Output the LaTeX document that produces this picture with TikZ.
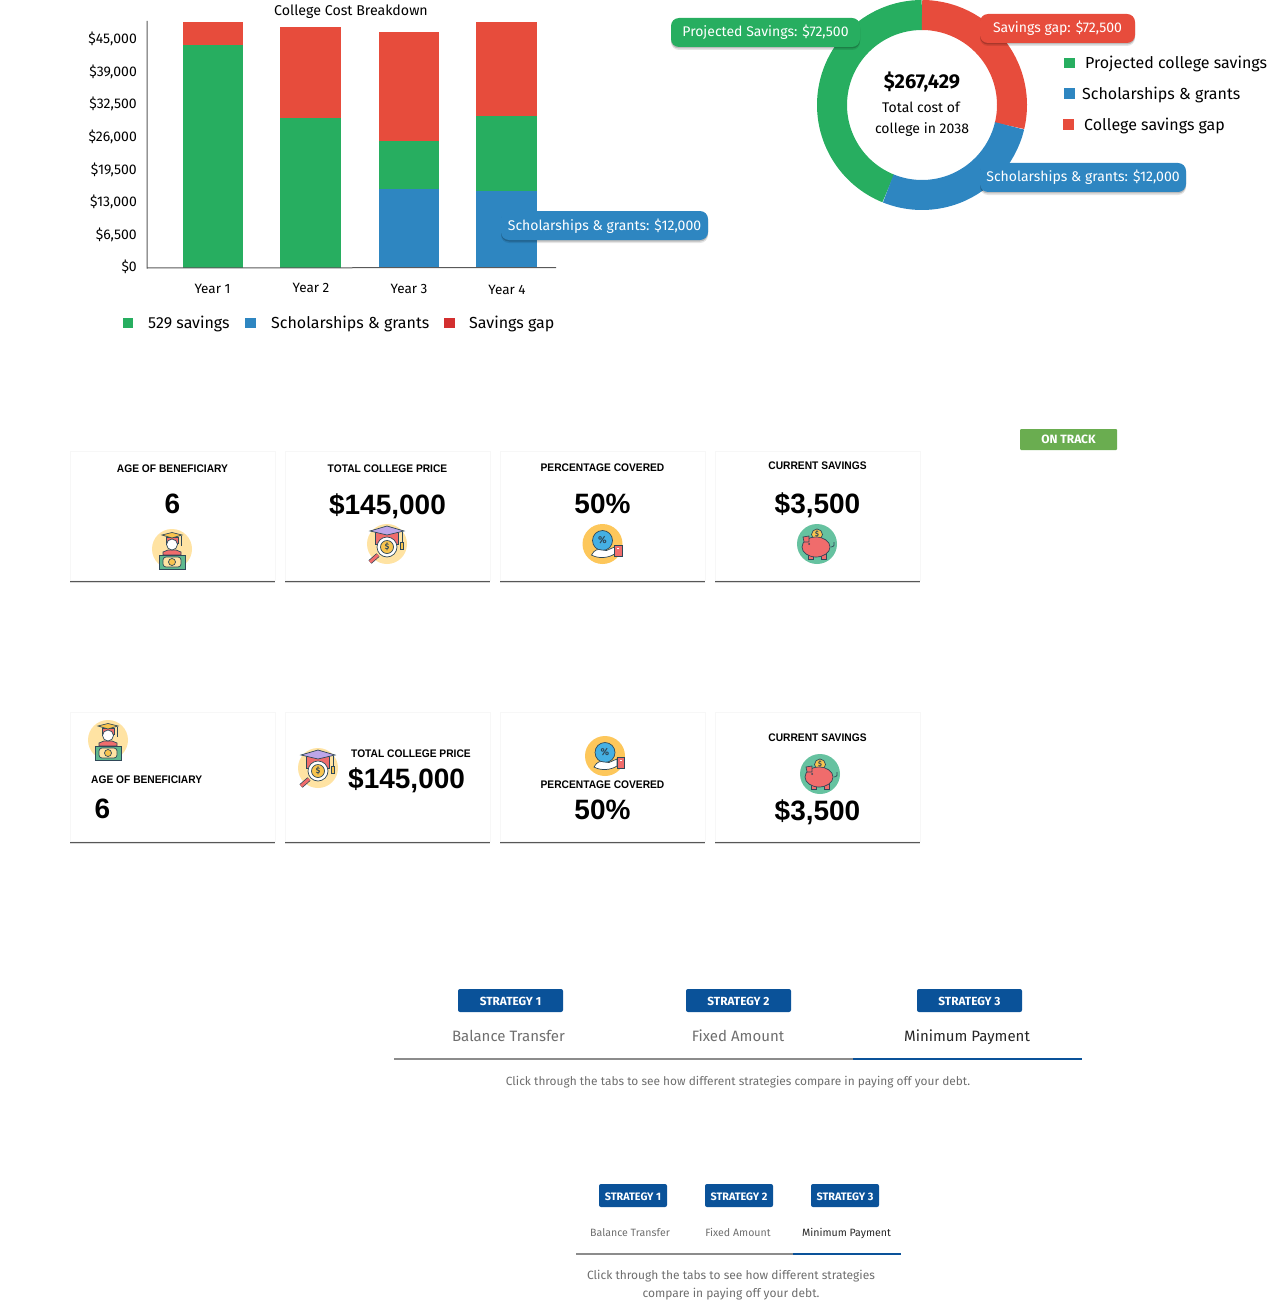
\documentclass[tikz,border=0pt]{standalone}
\usepackage{fontspec}
\setmainfont{Fira Sans}
\newfontfamily\headfont{Liberation Sans}
\newfontfamily\titlefont[FakeStretch=0.93]{Liberation Sans}
\usetikzlibrary{shadows}
\definecolor{savegreen}{HTML}{27AE60}
\definecolor{gapred}{HTML}{E74C3C}
\definecolor{legendred}{HTML}{D32F2F}
\definecolor{grantblue}{HTML}{2E86C1}
\definecolor{trackgreen}{HTML}{6AAD50}
\definecolor{tabblue}{HTML}{0A5299}
\definecolor{tabgrey}{HTML}{6E6E6E}
\definecolor{lineink}{HTML}{2F4858}
\definecolor{paleyellow}{HTML}{FFE3A3}
\definecolor{coinyellow}{HTML}{F8C44F}
\definecolor{iconred}{HTML}{F06C6C}
\definecolor{billgreen}{HTML}{5FB98F}
\definecolor{pigback}{HTML}{66C2A0}
\definecolor{lensblue}{HTML}{45B0E3}
\definecolor{handback}{HTML}{FDC75B}
\newcommand{\fs}[1]{\fontsize{#1}{#1}\selectfont}
\tikzset{
  plain/.style={inner sep=0pt,text=black},
  tick/.style={plain,anchor=east,yshift=-.5pt,font=\fs{14}},
  yearlabel/.style={plain,yshift=-1pt,font=\fs{13.5}},
  legendtext/.style={plain,anchor=west,yshift=-1pt,font=\fs{16}},
  pill/.style={rounded corners=8pt,text=white,inner sep=0pt,minimum height=29pt,font=\fs{14},
    text height=12pt,text depth=3pt,
    general shadow={shadow xshift=0pt,shadow yshift=-3pt,fill=black,opacity=.1},
    general shadow={shadow xshift=0pt,shadow yshift=-1.5pt,fill=black,opacity=.18}},
  card/.style={fill=white,draw=black!3,line width=.4pt,inner sep=0pt,minimum width=205pt,minimum height=129pt,
    general shadow={shadow xshift=0pt,shadow yshift=-3pt,shadow scale=1.004,fill=black,opacity=.15},
    general shadow={shadow xshift=0pt,shadow yshift=-1.6pt,shadow scale=1.002,fill=black,opacity=.6}},
  cardtitle/.style={plain,font=\titlefont\bfseries\fs{11}},
  cardvalue/.style={plain,font=\headfont\bfseries\fs{28}},
  badge/.style={fill=tabblue,rounded corners=2pt,text=white,inner sep=0pt,minimum height=23pt,
    text height=10pt,text depth=0pt,font=\bfseries\fs{11.8}},
  tablabel/.style={plain,text=tabgrey,font=\fs{15}},
  caption/.style={plain,text=tabgrey,yshift=-1pt,font=\fs{11.9}},
  ink/.style={draw=lineink,line width=.7pt},
  gradicon/.pic={
    \fill[paleyellow] (0,0) circle (20);
    \fill[ink,fill=iconred] (-9,6) -- (-9,3) -- (-4,1) -- (4,1) -- (9,3) -- (9,6) -- cycle;
    \fill[ink,fill=iconred] (-6,-12) rectangle (6,-6);
    \fill[ink,fill=white] (0,-4.5) circle (5.5);
    \fill[ink,fill=coinyellow] (-10,-14) -- (0,-16.5) -- (10,-14) -- (0,-11) -- cycle;
    \draw[ink] (9,-13) -- (9,-3);
    \fill[ink,fill=billgreen] (-13,6) rectangle (13,20);
    \fill[ink,fill=paleyellow,rounded corners=3pt] (-9,8) rectangle (9,18);
    \fill[ink,fill=coinyellow] (0,13) circle (3.5);
  },
  lensicon/.pic={
    \fill[paleyellow] (0,0) circle (20);
    \fill[ink,fill=iconred] (-12,-12) rectangle (11,0);
    \fill[ink,fill=purple!35!blue!35!white] (-17,-13) -- (0,-18) -- (17,-13) -- (0,-9) -- cycle;
    \draw[ink,line width=1pt] (15,-12) -- (15,-2);
    \fill[ink,fill=coinyellow] (13.5,-2) rectangle (16.5,5);
    \draw[lineink,line width=4.5pt] (-9,11) -- (-17,18);
    \draw[iconred,line width=3pt] (-9,11) -- (-17,18);
    \fill[ink,fill=white] (0,3) circle (10);
    \fill[ink,fill=coinyellow] (0,3) circle (6.5);
    \node[plain,text=lineink,font=\bfseries\fs{8}] at (0,3) {\$};
  },
  handicon/.pic={
    \fill[handback] (0,0) circle (20);
    \fill[ink,fill=lensblue] (0,-3.5) circle (10);
    \node[plain,text=lineink,font=\bfseries\fs{10}] at (0,-3.5) {\%};
    \fill[ink,fill=white] (-11,11) .. controls (-8,5) and (-4,5) .. (-1,6) -- (4,6.5)
      -- (12,3) -- (12,10) .. controls (6,14) and (-4,15) .. (-11,11) -- cycle;
    \fill[ink,fill=iconred] (12,1) rectangle (19.5,12);
    \fill[white] (14.8,3.5) rectangle (16.6,5);
  },
  pigicon/.pic={
    \fill[pigback] (0,0) circle (20);
    \fill[ink,fill=coinyellow] (0,-9.5) circle (5.5);
    \node[plain,text=lineink,font=\bfseries\fs{7}] at (0,-9.5) {\$};
    \draw[ink] (14,3) .. controls (17,3) and (18,0) .. (17,-2);
    \fill[ink,fill=iconred] (-9,9) rectangle (-4,15);
    \fill[ink,fill=iconred] (4,9) rectangle (9,15);
    \fill[ink,fill=iconred] (-1,3) ellipse (14 and 10);
    \fill[ink,fill=iconred] (-14,-7) -- (-8,-8) -- (-8,-2) -- (-13,-2) -- cycle;
    \fill[lineink] (-8,0) circle (1);
  },
}
\begin{document}
\begin{tikzpicture}[x=1pt,y=-1pt]
  \useasboundingbox (0,0) rectangle (1272,1308);
  \fill[savegreen] (183,45) rectangle (243,268);
  \fill[gapred] (183,22) rectangle (243,45);
  \fill[savegreen] (280,118) rectangle (341,268);
  \fill[gapred] (280,27) rectangle (341,118);
  \fill[grantblue] (379,189) rectangle (439,267);
  \fill[savegreen] (379,141) rectangle (439,189);
  \fill[gapred] (379,32) rectangle (439,141);
  \fill[grantblue] (476,191) rectangle (537,267);
  \fill[savegreen] (476,116) rectangle (537,191);
  \fill[gapred] (476,22) rectangle (537,116);
  \draw[black!65,line width=1pt] (147,21) -- (147,268) -- (556,267.5);
  \node[plain,font=\fs{14.2}] (charttitle) at (351,12) {College Cost Breakdown};
  \node[tick] (t45) at (137,38.5) {\$45,000};
  \node[tick] (t39) at (137,71) {\$39,000};
  \node[tick] (t32) at (137,103.5) {\$32,500};
  \node[tick] (t26) at (137,136.5) {\$26,000};
  \node[tick] (t19) at (137,169) {\$19,500};
  \node[tick] (t13) at (137,201.5) {\$13,000};
  \node[tick] (t6) at (137,234.5) {\$6,500};
  \node[tick] (t0) at (137,266.5) {\$0};
  \node[yearlabel] (year1) at (212.5,288) {Year 1};
  \node[yearlabel] (year2) at (311,287) {Year 2};
  \node[yearlabel] (year3) at (409,288) {Year 3};
  \node[yearlabel] (year4) at (507,289) {Year 4};
  \fill[savegreen] (123,318) rectangle (133,328);
  \node[legendtext] (leg529) at (148,323) {529 savings};
  \fill[grantblue] (245,318) rectangle (256,328);
  \node[legendtext] (leggrant) at (271,323) {Scholarships \& grants};
  \fill[legendred] (444,318) rectangle (455,328);
  \node[legendtext] (leggap) at (469,323) {Savings gap};
  \node[pill,fill=grantblue,minimum width=207pt] (chartpill) at (604.5,225.5) {Scholarships \& grants: \$12,000};
  \begin{scope}[shift={(922,105)},y=1pt]
    \draw[savegreen,line width=30pt] (90:90) arc[start angle=90,end angle=248,radius=90];
    \draw[gapred,line width=30pt] (90:90) arc[start angle=90,end angle=-13.4,radius=90];
    \draw[grantblue,line width=30pt] (-13.4:90) arc[start angle=-13.4,end angle=-112,radius=90];
  \end{scope}
  \node[plain,font=\bfseries\fs{20}] (total) at (922,82) {\$267,429};
  \node[plain,font=\fs{14}] (totala) at (921,107) {Total cost of};
  \node[plain,font=\fs{14}] (totalb) at (922,130) {college in 2038};
  \node[pill,fill=savegreen,minimum width=189pt] (savepill) at (765.5,32.5) {Projected Savings: \$72,500};
  \node[pill,fill=gapred,minimum width=155pt] (gappill) at (1057.5,28.5) {Savings gap: \$72,500};
  \node[pill,fill=grantblue,minimum width=206pt] (grantpill) at (1083,177.5) {Scholarships \& grants: \$12,000};
  \fill[savegreen] (1064,58) rectangle (1075,68);
  \node[legendtext] (legsave) at (1085,62.5) {Projected college savings};
  \fill[grantblue] (1064,88) rectangle (1075,99);
  \node[legendtext] (leggrants) at (1082,93.5) {Scholarships \& grants};
  \fill[gapred] (1063,119) rectangle (1074,130);
  \node[legendtext] (leggapb) at (1084,124.5) {College savings gap};
  \node[fill=trackgreen,rounded corners=1pt,minimum width=97pt,minimum height=21pt,inner sep=0pt,text=white,font=\bfseries\fs{12}] (ontrack) at (1068.5,439.5) {ON TRACK};
  \node[card] (carda) at (172.5,515.5) {};
  \node[card] (cardb) at (387.5,515.5) {};
  \node[card] (cardc) at (602.5,515.5) {};
  \node[card] (cardd) at (817.5,515.5) {};
  \node[cardtitle] (titlea) at (172.5,468.5) {AGE OF BENEFICIARY};
  \node[cardtitle] (titleb) at (387.5,468.5) {TOTAL COLLEGE PRICE};
  \node[cardtitle] (titlec) at (602.5,467.5) {PERCENTAGE COVERED};
  \node[cardtitle] (titled) at (817.5,465.5) {CURRENT SAVINGS};
  \node[cardvalue] (valuea) at (172.5,504) {6};
  \node[cardvalue] (valueb) at (387.5,506) {\$145,000};
  \node[cardvalue] (valuec) at (602.5,504) {50\%};
  \node[cardvalue] (valued) at (817.5,505) {\$3,500};
  \pic at (172,549) {gradicon};
  \pic at (387,544) {lensicon};
  \pic at (602.5,544) {handicon};
  \pic at (817,544) {pigicon};
  \node[card] (cardp) at (172.5,776.5) {};
  \node[card] (cardq) at (387.5,776.5) {};
  \node[card] (cardr) at (602.5,776.5) {};
  \node[card] (cards) at (817.5,776.5) {};
  \pic at (108,740) {gradicon};
  \node[cardtitle,anchor=west] (titlep) at (91,780) {AGE OF BENEFICIARY};
  \node[cardvalue] (valuep) at (102.5,809) {6};
  \pic at (318,768) {lensicon};
  \node[cardtitle,anchor=west] (titleq) at (351,754) {TOTAL COLLEGE PRICE};
  \node[cardvalue,anchor=west] (valueq) at (348,780) {\$145,000};
  \pic at (605,756) {handicon};
  \node[cardtitle] (titler) at (602.5,785) {PERCENTAGE COVERED};
  \node[cardvalue] (valuer) at (602.5,810) {50\%};
  \node[cardtitle] (titles) at (817.5,738) {CURRENT SAVINGS};
  \pic at (820,774) {pigicon};
  \node[cardvalue] (values) at (817.5,812) {\$3,500};
  \node[badge,minimum width=105pt] (strata) at (510.5,1000.5) {STRATEGY 1};
  \node[badge,minimum width=105pt] (stratb) at (738.5,1000.5) {STRATEGY 2};
  \node[badge,minimum width=105pt] (stratc) at (969.5,1000.5) {STRATEGY 3};
  \node[tablabel] (taba) at (508.5,1036) {Balance Transfer};
  \node[tablabel] (tabb) at (738,1036) {Fixed Amount};
  \node[tablabel,text=black!85] (tabc) at (967,1037) {Minimum Payment};
  \draw[black!45,line width=2pt] (394,1058.5) -- (853,1058.5);
  \draw[tabblue,line width=2pt] (853,1058.5) -- (1082,1058.5);
  \node[caption] (capa) at (738,1081) {Click through the tabs to see how different strategies compare in paying off your debt.};
  \node[badge,minimum width=68pt,font=\bfseries\fs{10.8}] (stratp) at (633,1195.5) {STRATEGY 1};
  \node[badge,minimum width=68pt,font=\bfseries\fs{10.8}] (stratq) at (739,1195.5) {STRATEGY 2};
  \node[badge,minimum width=68pt,font=\bfseries\fs{10.8}] (stratr) at (845,1195.5) {STRATEGY 3};
  \node[tablabel,font=\fs{10.6}] (tabp) at (630,1232.5) {Balance Transfer};
  \node[tablabel,font=\fs{10.6}] (tabq) at (738,1232.5) {Fixed Amount};
  \node[tablabel,text=black!85,font=\fs{10.6}] (tabr) at (846.5,1233) {Minimum Payment};
  \draw[black!45,line width=2pt] (576,1254) -- (793,1254);
  \draw[tabblue,line width=2pt] (793,1254) -- (901,1254);
  \node[caption,font=\fs{12}] (capp) at (731,1275) {Click through the tabs to see how different strategies};
  \node[caption,font=\fs{12}] (capq) at (731,1293) {compare in paying off your debt.};
\end{tikzpicture}
\end{document}
